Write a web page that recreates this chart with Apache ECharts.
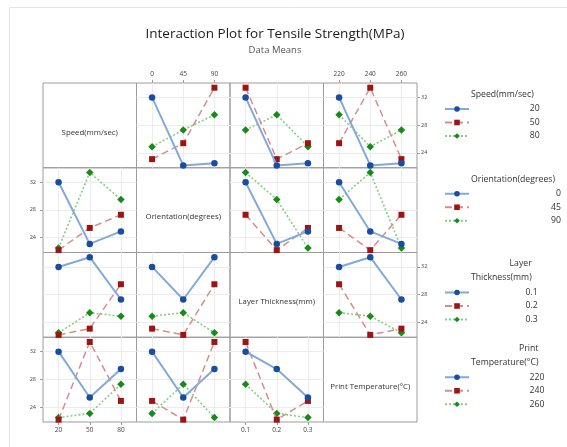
<!DOCTYPE html>
<html>
<head>
<meta charset="utf-8">
<script src="https://cdn.jsdelivr.net/npm/echarts@6/dist/echarts.min.js"></script>
<style>
  html, body { margin: 0; padding: 0; background: #ffffff; }
  #chart { width: 567px; height: 447px; }
</style>
</head>
<body>
<div id="chart"></div>
<script>
// Factor levels
const speedLevels = [20, 50, 80];
const orientationLevels = [0, 45, 90];
const layerLevels = [0.1, 0.2, 0.3];
const tempLevels = [220, 240, 260];

// L9 orthogonal array: factor settings of each run and its tensile strength (MPa)
const runSpeed       = [20, 20, 20, 50, 50, 50, 80, 80, 80];
const runOrientation = [0, 45, 90, 0, 45, 90, 0, 45, 90];
const runLayer       = [0.1, 0.2, 0.3, 0.2, 0.3, 0.1, 0.3, 0.1, 0.2];
const runTemp        = [220, 240, 260, 260, 220, 240, 240, 260, 220];
const tensileStrength = [32.0, 22.2, 22.5, 23.1, 25.4, 33.4, 24.9, 27.3, 29.5];

// Y axis ticks shared by all panels
const yTicks = [24, 28, 32];

const factorLabels = ['Speed(mm/sec)', 'Orientation(degrees)', 'Layer Thickness(mm)', 'Print Temperature(°C)'];
const legendTitles = [['Speed(mm/sec)'], ['Orientation(degrees)'], ['Layer', 'Thickness(mm)'], ['Print', 'Temperature(°C)']];

const factors = [
  { levels: speedLevels, runs: runSpeed },
  { levels: orientationLevels, runs: runOrientation },
  { levels: layerLevels, runs: runLayer },
  { levels: tempLevels, runs: runTemp }
];

// Layout of the 4x4 matrix
const FONT = '"Open Sans", "Noto Sans", sans-serif';
const gridLeft = 43, gridTop = 83, cellW = 93.5, cellH = 84.75;
const yMin = 21.86, yMax = 34.08;

// Level styles: blue solid/circle, red dashed/square, green dotted/diamond
const lineColors = ['#82a9dc', '#d98c8c', '#84cf84'];
const markColors = ['#1a4d9e', '#9c1414', '#178a17'];
const symbols = ['circle', 'rect', 'diamond'];
const symbolSizes = [6.5, 6, 7.5];
const dashTypes = ['solid', [7, 4], [2, 2]];
const lineWidths = [2, 1.5, 1.6];

function cellMean(fi, a, fj, b) {
  let sum = 0, n = 0;
  for (let r = 0; r < tensileStrength.length; r++) {
    if (factors[fi].runs[r] === a && factors[fj].runs[r] === b) { sum += tensileStrength[r]; n++; }
  }
  return n ? sum / n : null;
}

const grids = [], xAxes = [], yAxes = [], series = [], graphics = [], legends = [];

for (let i = 0; i < 4; i++) {
  for (let j = 0; j < 4; j++) {
    const k = i * 4 + j;
    const lv = factors[j].levels;
    const step = lv[1] - lv[0];
    const diag = i === j;
    const xLabeled = (i === 0 && (j === 1 || j === 3)) || (i === 3 && (j === 0 || j === 2));
    const yLabeledRight = (i === 0 || i === 2) && j === 3;
    const yLabeledLeft = (i === 1 || i === 3) && j === 0;

    grids.push({
      left: gridLeft + j * cellW, top: gridTop + i * cellH,
      width: cellW, height: cellH,
      show: true, borderColor: '#9c9c9c', borderWidth: 1, backgroundColor: 'transparent'
    });

    xAxes.push({
      type: 'value', gridIndex: k,
      min: lv[0] - step / 2, max: lv[2] + step / 2,
      position: i === 0 ? 'top' : 'bottom',
      axisLine: { show: false },
      axisTick: { show: xLabeled, customValues: lv, length: 3, lineStyle: { color: '#9c9c9c' } },
      axisLabel: { show: xLabeled, customValues: lv, fontSize: 6.5, color: '#444', margin: 5, fontFamily: FONT },
      splitLine: { show: !diag, lineStyle: { color: '#ececec', width: 1 } }
    });

    yAxes.push({
      type: 'value', gridIndex: k, min: yMin, max: yMax,
      position: yLabeledRight ? 'right' : 'left',
      axisLine: { show: false },
      axisTick: { show: yLabeledRight || yLabeledLeft, customValues: yTicks, length: 3, lineStyle: { color: '#9c9c9c' } },
      axisLabel: { show: yLabeledRight || yLabeledLeft, customValues: yTicks, fontSize: 5.5, color: '#444',
                   margin: yLabeledRight ? 4 : 7, fontFamily: FONT },
      splitLine: { show: !diag, lineStyle: { color: '#ececec', width: 1 } }
    });

    if (diag) {
      graphics.push({
        type: 'text',
        x: gridLeft + j * cellW + cellW / 2,
        y: gridTop + i * cellH + cellH / 2 + 7,
        style: { text: factorLabels[i], align: 'center', verticalAlign: 'middle',
                 fontSize: 7.8, fill: '#333', fontFamily: FONT }
      });
      continue;
    }

    factors[i].levels.forEach((a, s) => {
      series.push({
        type: 'line', name: String(a), xAxisIndex: k, yAxisIndex: k,
        data: lv.map(b => [b, cellMean(i, a, j, b)]),
        symbol: symbols[s], symbolSize: symbolSizes[s],
        itemStyle: { color: markColors[s] },
        lineStyle: { color: lineColors[s], width: lineWidths[s], type: dashTypes[s] },
        z: 3 - s,
        animation: false, silent: true
      });
    });
  }
}

// Legends, one per row factor, text right-aligned to the widest title line
const measureCtx = document.createElement('canvas').getContext('2d');
function textWidth(t, size) {
  measureCtx.font = size + 'px ' + FONT;
  return measureCtx.measureText(t).width;
}
const legendX = 439, legendIconW = 24, legendTextLeft = 471;
const legendFont = 8.7;
const legendRowStep = 13.5;
for (let i = 0; i < 4; i++) {
  const lines = legendTitles[i];
  const maxW = Math.max.apply(null, lines.map(t => textWidth(t, legendFont)));
  const right = legendTextLeft + maxW;
  const rowTop = gridTop + i * cellH;
  lines.forEach((t, n) => {
    graphics.push({
      type: 'text', x: right, y: rowTop + 11.5 + n * 14,
      style: { text: t, align: 'right', verticalAlign: 'middle', fontSize: legendFont, fill: '#333', fontFamily: FONT }
    });
  });
  const firstItem = rowTop + 11.5 + (lines.length - 1) * 14 + 13.5;
  legends.push({
    orient: 'vertical', left: legendX, top: firstItem - 9,
    itemWidth: legendIconW, itemHeight: 7, itemGap: legendRowStep - 10,
    selectedMode: false,
    data: factors[i].levels.map(String),
    formatter: name => '{v|' + name + '}',
    textStyle: {
      rich: { v: { width: right - (legendX + legendIconW + 5), align: 'right', fontSize: legendFont,
                   lineHeight: 10, height: 10, color: '#333', fontFamily: FONT } }
    }
  });
}

// Faint figure frame
graphics.push({ type: 'rect', shape: { x: 9.5, y: 7.5, width: 600, height: 500 },
                style: { fill: 'none', stroke: '#e4e4e4', lineWidth: 1 }, z: -1 });

const chart = echarts.init(document.getElementById('chart'), null, { renderer: 'canvas' });
chart.setOption({
  backgroundColor: '#ffffff',
  animation: false,
  title: {
    text: 'Interaction Plot for Tensile Strength(MPa)',
    subtext: 'Data Means',
    left: 270, top: 22, textAlign: 'center', itemGap: 4,
    textStyle: { fontFamily: FONT, fontSize: 13.5, fontWeight: 'normal', color: '#1c1c1c' },
    subtextStyle: { fontFamily: FONT, fontSize: 9.5, color: '#555' }
  },
  grid: grids,
  xAxis: xAxes,
  yAxis: yAxes,
  legend: legends,
  series: series,
  graphic: graphics
});
</script>
</body>
</html>
